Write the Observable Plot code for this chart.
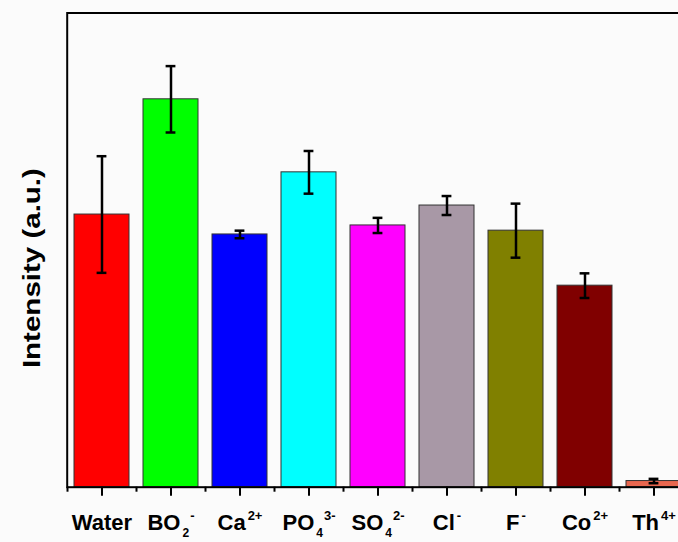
<!DOCTYPE html>
<html>
<head>
<meta charset="utf-8">
<script src="https://cdn.jsdelivr.net/npm/d3@7"></script>
<script src="https://cdn.jsdelivr.net/npm/@observablehq/plot@0.6"></script>
<style>
  html, body { margin: 0; padding: 0; background: #fbfbfb; overflow: hidden; }
  #chart svg { display: block; background: transparent; max-width: none !important; height: 542px !important; }
</style>
</head>
<body>
<div id="chart"></div>
<script>
// ---- data ----
const categories = ["Water", "BO2-", "Ca2+", "PO43-", "SO42-", "Cl-", "F-", "Co2+", "Th4+"];
const labelBase = ["Water", "BO", "Ca", "PO", "SO", "Cl", "F", "Co", "Th"];
const labelSub  = ["", "2", "", "4", "4", "", "", "", ""];
const labelSup  = ["", "-", "2+", "3-", "2-", "-", "-", "2+", "4+"];
const intensity = [57.5, 81.8, 53.3, 66.4, 55.2, 59.4, 54.1, 42.5, 1.3];
const errors    = [12.3, 7.0, 0.8, 4.5, 1.6, 2.0, 5.7, 2.6, 0.46];
const barColors = ["#ff0000", "#00ff00", "#0000ff", "#00ffff", "#ff00ff", "#a898a6", "#808000", "#800000", "#e8674f"];
const yLabel = "Intensity (a.u.)";

const table = categories.map((c, i) => ({
  cat: c, v: intensity[i], lo: intensity[i] - errors[i], hi: intensity[i] + errors[i]
}));

const font = "'Liberation Sans', Arial, sans-serif";

const chart = Plot.plot({
  width: 690,
  height: 542,
  marginLeft: 66.7,
  marginRight: 2.3,
  marginTop: 12.5,
  marginBottom: 55.3,
  style: { fontFamily: font, background: "transparent" },
  x: { domain: categories, paddingInner: 0.2, paddingOuter: 0.1, axis: null },
  y: { domain: [0, 100], axis: null },
  color: { domain: categories, range: barColors },
  marks: [
    Plot.barY(table, { x: "cat", y: "v", fill: "cat", stroke: "#333", strokeWidth: 1 }),
    Plot.ruleX(table, { x: "cat", y1: "lo", y2: "hi", stroke: "black", strokeWidth: 2.5 }),
    Plot.tickY(table, { x: "cat", y: "lo", stroke: "black", strokeWidth: 2.5, insetLeft: 22.6, insetRight: 22.6 }),
    Plot.tickY(table, { x: "cat", y: "hi", stroke: "black", strokeWidth: 2.5, insetLeft: 22.6, insetRight: 22.6 }),
    Plot.frame({ stroke: "black", strokeWidth: 2 }),
    // minor ticks at band edges
    Plot.axisX({ tickSize: 5, strokeWidth: 2, dx: -34.5, tickFormat: () => "", label: null }),
    // major ticks + labels
    Plot.axisX({ tickSize: 9, strokeWidth: 2, tickPadding: 18, fontSize: 22, fontWeight: "bold", fill: "black", label: null, tickFormat: d => d }),
    Plot.text([yLabel], { frameAnchor: "left", textAnchor: "middle", rotate: -90, dx: -35, dy: 18, fontSize: 24, fontWeight: "bold", fill: "black" })
  ]
});

document.getElementById("chart").appendChild(chart);

// rebuild tick labels with sub/superscripts
d3.select(chart).selectAll("text").each(function () {
  const t = this.textContent;
  if (t === yLabel) {
    d3.select(this).attr("textLength", 200).attr("lengthAdjust", "spacingAndGlyphs");
    return;
  }
  const i = categories.indexOf(t);
  if (i < 0) return;
  const sel = d3.select(this);
  sel.text(null);
  sel.append("tspan").text(labelBase[i]);
  let shift = 0;
  if (labelSub[i]) {
    sel.append("tspan").attr("dy", 7).attr("dx", 2).style("font-size", "12px").text(labelSub[i]);
    shift = 7;
  }
  if (labelSup[i]) {
    sel.append("tspan").attr("dy", -(shift + 9.5)).attr("dx", labelSub[i] ? 1 : 2).style("font-size", "13px").text(labelSup[i]);
  }
});
</script>
</body>
</html>
